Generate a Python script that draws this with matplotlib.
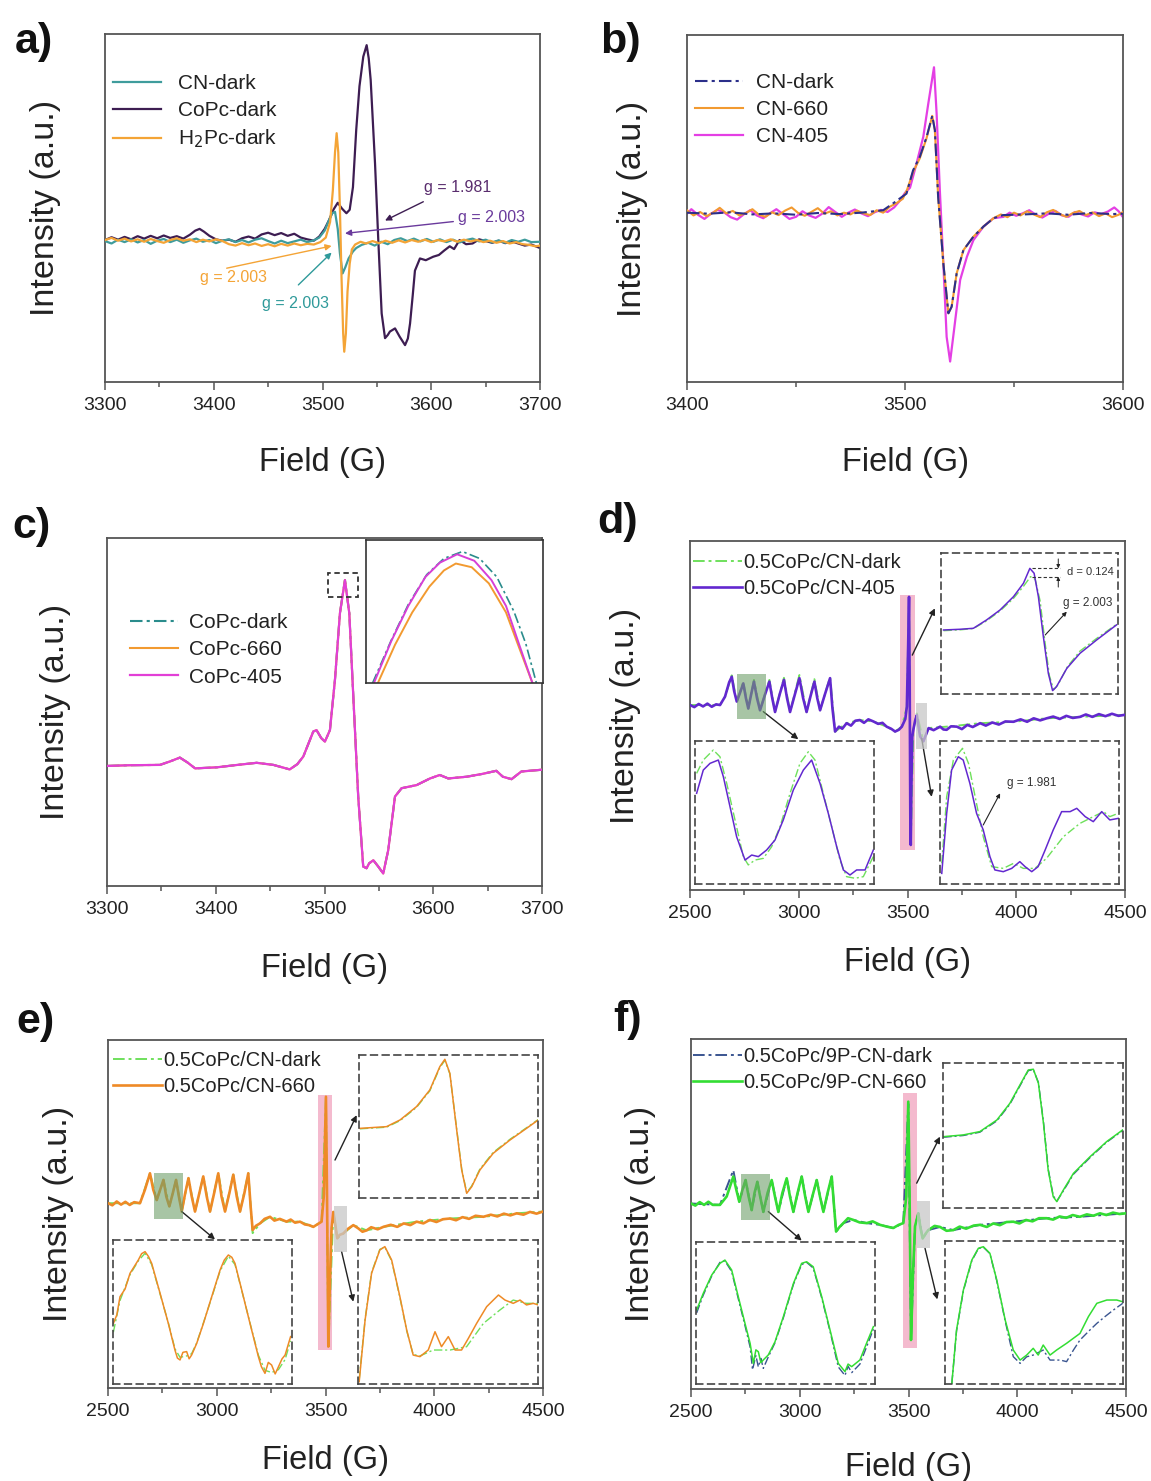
import matplotlib
matplotlib.use("Agg")
import matplotlib.pyplot as plt
from matplotlib.patches import Rectangle
import numpy as np

plt.rcParams['font.family'] = ['Liberation Sans', 'DejaVu Sans']

# ---------------- DATA (field G, intensity a.u.) ----------------
# panel a
a_cn_dark = [(3300,40.5),(3306,39.8),(3312,40.9),(3318,40.2),(3324,41.0),(3330,40.1),(3336,40.8),(3342,39.7),(3348,40.6),(3354,41.1),(3360,40.2),(3366,40.9),(3372,40.0),(3378,40.7),(3384,41.2),(3390,40.3),(3396,40.8),(3402,39.9),(3408,40.6),(3414,41.0),(3420,40.2),(3426,40.8),(3432,40.1),(3438,40.9),(3444,41.3),(3450,40.5),(3456,39.8),(3462,40.6),(3468,39.9),(3474,40.4),(3480,40.9),(3486,40.2),(3492,40.7),(3497,41.5),(3502,43.5),(3506,46.5),(3509,48.5),(3511.5,48.9),(3514,44),(3516,37),(3518.5,31.2),(3521,33),(3524,35.5),(3528,37.5),(3531,38.5),(3536,39.4),(3542,40.0),(3548,39.2),(3554,40.3),(3560,39.6),(3566,40.8),(3572,41.3),(3578,40.5),(3584,41.2),(3590,40.4),(3596,41.1),(3602,40.3),(3608,41.0),(3614,40.2),(3620,40.9),(3626,40.1),(3632,40.8),(3638,41.2),(3644,40.4),(3650,40.9),(3656,40.1),(3662,40.7),(3668,40.0),(3674,40.8),(3680,40.3),(3686,40.9),(3692,40.2),(3700,40.3)]
a_copc_dark = [(3300,40.8),(3306,41.6),(3312,40.9),(3318,41.7),(3324,41.0),(3330,41.9),(3336,41.2),(3342,42.0),(3348,41.3),(3354,42.1),(3360,41.4),(3366,41.9),(3372,41.2),(3378,42.3),(3383,43.5),(3387,44.0),(3391,43.2),(3396,42.0),(3402,41.0),(3408,40.6),(3414,40.9),(3420,40.3),(3426,41.3),(3432,41.8),(3438,41.2),(3444,42.4),(3450,42.9),(3456,42.2),(3462,42.8),(3468,42.0),(3474,42.6),(3480,41.5),(3486,41.0),(3492,40.6),(3497,41.8),(3502,44),(3506,46.5),(3510,49.5),(3514,51.5),(3518,49.8),(3522,48.5),(3525,49.5),(3528,56),(3531,72.4),(3534,85),(3537.5,93.5),(3540.6,96.8),(3542.5,93),(3544.3,86.8),(3548.3,62.8),(3551.3,40.8),(3554.4,19.7),(3557.5,12.6),(3560,13.5),(3562,14.5),(3566.7,15.4),(3571,13),(3575.9,10.6),(3578.5,12.5),(3580.5,16.8),(3583,25),(3585,32),(3589.6,35.5),(3595,35.0),(3601.8,36.0),(3607,36.5),(3612,37.8),(3617,39.0),(3621,38.2),(3626,40.8),(3632,39.6),(3638,39.8),(3644,41.0),(3650,40.5),(3656,40.0),(3662,40.6),(3668,39.9),(3674,40.4),(3680,39.8),(3686,39.2),(3692,39.5),(3700,38.5)]
a_h2pc_dark = [(3300,40.8),(3306,41.4),(3312,40.6),(3318,41.2),(3324,40.4),(3330,41.0),(3336,40.3),(3342,41.1),(3348,40.5),(3354,40.0),(3360,40.8),(3366,41.3),(3372,40.6),(3378,41.0),(3384,40.2),(3390,40.9),(3396,40.4),(3402,41.0),(3408,40.5),(3414,39.6),(3420,39.2),(3426,39.9),(3432,39.3),(3438,39.8),(3444,39.1),(3450,39.6),(3456,39.0),(3462,39.7),(3468,39.2),(3474,39.8),(3480,39.3),(3486,39.7),(3492,39.5),(3498,40.2),(3503,41.5),(3507,46),(3509.5,55),(3511.5,66),(3513,71.5),(3514.5,66),(3516,50),(3517.5,30),(3519,14),(3520,8.7),(3521.5,14),(3523,26),(3525,34),(3527,38.1),(3530,39.5),(3535,40.3),(3540,39.8),(3546,40.5),(3552,39.9),(3558,40.6),(3564,40.0),(3570,40.7),(3576,40.1),(3582,40.8),(3588,40.3),(3594,40.9),(3600,40.2),(3606,40.8),(3612,40.4),(3618,41.0),(3624,40.3),(3630,40.9),(3636,40.4),(3642,40.8),(3648,40.2),(3654,40.6),(3660,40.0),(3666,40.5),(3672,39.8),(3678,40.2),(3684,39.6),(3690,39.4),(3696,39.0),(3700,39.2)]

# panel b
b_cn_dark = [(3400,48.8),(3410,48.5),(3420,48.9),(3430,48.3),(3440,48.6),(3450,48.2),(3460,48.7),(3470,48.4),(3480,48.8),(3490,49.5),(3494.6,51.5),(3500.7,54.3),(3503.7,61.0),(3506.8,64.9),(3509.9,70.6),(3512.5,76.7),(3513.7,72.6),(3515.2,53.4),(3517.6,34.1),(3519.9,19.8),(3521.4,21.7),(3523.7,31.3),(3526.8,38.0),(3531.4,41.9),(3536,44.8),(3540.6,47.2),(3545,48.1),(3555,48.3),(3565,48.6),(3575,48.2),(3585,48.7),(3595,48.4),(3600,48.5)]
b_cn_660 = [(3400,49.5),(3403,48.0),(3406,49.0),(3409,47.8),(3412,48.8),(3415,50.2),(3418,48.6),(3421,49.3),(3424,48.0),(3427,48.7),(3430,49.8),(3433,48.2),(3436,47.6),(3439,48.9),(3442,48.1),(3445,49.4),(3448,50.3),(3451,48.7),(3454,47.9),(3457,49.0),(3460,50.1),(3463,48.5),(3466,49.2),(3469,48.0),(3472,48.8),(3475,48.3),(3478,49.4),(3481,48.6),(3484,48.1),(3487,49.5),(3490,48.8),(3493,50.5),(3496,51.5),(3499,52.8),(3501,55.5),(3503.7,60.5),(3506.8,64.5),(3509.9,70.3),(3512.5,76.7),(3513.7,72.6),(3515.2,53.4),(3517.6,34.1),(3519.9,19.8),(3521.4,21.7),(3523.7,31.3),(3526.8,38.0),(3531.4,41.9),(3536,44.8),(3540.6,47.2),(3544,48.3),(3547,47.5),(3550,48.8),(3553,48.0),(3556,49.2),(3559,48.3),(3562,47.5),(3565,48.9),(3568,49.6),(3571,48.4),(3574,47.6),(3577,48.7),(3580,49.3),(3583,48.1),(3586,48.9),(3589,47.8),(3592,48.6),(3595,47.5),(3598,48.2),(3600,49.0)]
b_cn_405 = [(3400,48.5),(3402,49.8),(3405,48.2),(3408,47.0),(3411,48.5),(3414,49.6),(3417,48.9),(3420,47.5),(3423,46.8),(3426,48.3),(3429,49.5),(3432,48.0),(3435,47.2),(3438,48.6),(3441,49.8),(3444,48.4),(3447,47.0),(3450,47.6),(3453,49.2),(3456,48.0),(3459,47.3),(3462,48.5),(3465,50.4),(3468,49.0),(3471,47.6),(3474,48.8),(3477,49.7),(3480,48.6),(3483,47.8),(3486,48.9),(3489,49.6),(3492,49.0),(3495,50.3),(3498,52.5),(3500,54.5),(3502.3,56),(3505.3,63),(3508.4,70.7),(3510.7,80.3),(3513.3,90.7),(3514.5,77.4),(3516,55),(3517.6,34),(3519.1,13),(3520.7,5.9),(3522.5,15),(3525.3,29.4),(3528.4,36.1),(3531.4,40.9),(3536,44.8),(3540.6,47.2),(3545.2,47.6),(3548,48.8),(3551,47.9),(3554,48.6),(3557,49.5),(3560,48.2),(3563,47.4),(3566,48.5),(3569,49.3),(3572,48.0),(3575,47.6),(3578,49.0),(3581,48.3),(3584,47.7),(3587,48.9),(3590,48.4),(3593,49.1),(3596,50.3),(3598,49.2),(3600,47.5)]

# panel c (three nearly identical spectra)
c_copc = [(3300,34.5),(3320,34.7),(3348.7,34.8),(3358,35.8),(3367,36.9),(3374,35.5),(3381,33.8),(3401,34.1),(3420,34.8),(3437.6,35.4),(3453,34.8),(3468,33.5),(3475,35.0),(3480.5,37.2),(3489.7,44.4),(3492.7,44.8),(3497,42.5),(3500.4,41.5),(3505,44.8),(3509.6,59.2),(3514.2,78.4),(3518.8,87.9),(3522.8,78.4),(3526.5,54.4),(3531,25.7),(3535.6,5.6),(3538.7,5.1),(3541,6.5),(3544.9,7.4),(3549.4,5.6),(3554,3.6),(3558.6,10.3),(3564.8,25.7),(3570.9,28.1),(3584.7,29.0),(3597,30.9),(3606,31.9),(3613.8,30.9),(3630.7,31.4),(3645,32.2),(3658,33.1),(3664,31.4),(3672,30.7),(3681,32.9),(3699.5,33.4),(3700,33.4)]
c_in_405 = [(3512.6,86.0),(3513.9,86.9),(3515.2,87.67),(3516.5,88.3),(3517.6,88.61),(3518.9,88.79),(3520.2,88.65),(3521.5,88.23),(3522.6,87.67),(3523.6,86.83),(3524.6,86.0)]
c_in_660 = [(3512.9,86.0),(3514.2,86.83),(3515.5,87.53),(3516.8,88.09),(3517.9,88.44),(3518.8,88.59),(3520.0,88.51),(3521.3,88.16),(3522.6,87.53),(3523.6,86.76),(3524.6,86.0)]
c_in_dark = [(3512.5,86.0),(3513.9,86.92),(3515.2,87.7),(3516.6,88.35),(3517.9,88.7),(3519.3,88.85),(3520.6,88.7),(3521.9,88.3),(3523.2,87.55),(3524.1,86.85),(3524.9,86.0)]

# panel d : 0.5CoPc/CN-dark vs 405
d_405 = [(2500,53.0),(2520,52.4),(2540,53.3),(2560,52.6),(2580,53.4),(2600,52.5),(2620,53.2),(2638,53.0),(2661,55.4),(2680,59.5),(2692,61.1),(2703,57),(2715,54.0),(2730,56.5),(2745,59.2),(2757,55),(2768,52.0),(2781,56),(2794,59.7),(2808,55),(2822,51.5),(2845,56),(2865,59.7),(2878,55),(2891,51),(2912,56),(2932,60.2),(2946,55),(2960,51),(2982,56),(3003,60.7),(3020,55),(3036,51),(3054,55.5),(3072,59.7),(3085,55),(3098,51.5),(3120,56),(3144,60.7),(3155,52),(3167,45.4),(3185,46.8),(3200,46.2),(3220,47.8),(3240,47.1),(3260,48.5),(3281,48.7),(3300,47.9),(3320,48.9),(3343,48.3),(3365,47.6),(3385,47.9),(3404,46.8),(3425,46.2),(3443,45.4),(3460,45.9),(3474,46.8),(3490,49),(3497,52.5),(3503,70),(3507,84),(3510,60),(3513,20),(3515,12.9),(3518,30),(3522,44),(3527,46),(3535,48.5),(3543,50.1),(3550,47),(3558,44),(3573,42.6),(3585,44.5),(3597,46.4),(3620,45.8),(3650,46.8),(3665,46.0),(3680,45.9),(3700,46.9),(3727,46.8),(3750,46.1),(3775,47.3),(3800,46.7),(3834,47.8),(3860,47.1),(3890,48.0),(3920,47.4),(3950,48.3),(3987,48.2),(4020,48.9),(4050,48.2),(4080,49.2),(4110,48.6),(4140,49.2),(4170,49.7),(4200,49.0),(4230,49.9),(4260,49.3),(4293,49.6),(4320,50.3),(4350,49.6),(4380,50.4),(4410,49.8),(4440,50.5),(4470,49.9),(4500,50.2)]
d_dark = [(2500,53.0),(2638,53.0),(2661,55.4),(2692,61.5),(2715,54.0),(2745,59.6),(2768,52.0),(2794,60.2),(2822,51.5),(2865,60.2),(2891,51),(2932,60.8),(2960,51),(3003,61.6),(3036,51),(3072,60.4),(3098,51.5),(3144,61.0),(3167,45.4),(3220,47.8),(3281,48.7),(3343,48.3),(3404,46.8),(3443,45.4),(3474,46.8),(3497,52.5),(3507,83),(3515,13.5),(3527,46),(3543,50.6),(3573,42.6),(3597,46.4),(3700,46.9),(3834,47.8),(3987,48.2),(4140,49.2),(4293,49.6),(4500,50.2)]
d_tr_405 = [(3490.8,45.5),(3495.4,46.0),(3499.2,46.7),(3502.9,52.6),(3506.7,59.7),(3510.5,69.2),(3513.3,78.7),(3515.1,89.3),(3516.3,85.8),(3517.5,69.2),(3518.9,40.8),(3520.3,14.7),(3521.5,2.4),(3522.6,5.2),(3525.5,18.2),(3529.2,28.9),(3533.9,38.4),(3539.5,49.1)]
d_tr_dark = [(3490.8,45.0),(3495.4,45.6),(3499.2,46.5),(3502.9,52.0),(3506.7,59.0),(3510.5,68.0),(3513.3,76.5),(3515.3,83.4),(3516.6,81.5),(3518.0,66.0),(3519.3,38.0),(3520.6,13.0),(3521.8,3.0),(3523.0,6.5),(3525.7,19.5),(3529.2,30.5),(3533.9,39.5),(3539.5,49.5)]
d_bl_405 = [(2717.2,63.3),(2722.1,79.5),(2727.1,84.2),(2733.2,86.5),(2736.9,74.9),(2741.8,54.0),(2746.7,33.0),(2752.9,16.7),(2757.8,20.2),(2762.7,19.1),(2768.8,23.7),(2775.0,30.7),(2781.1,44.7),(2788.5,65.6),(2795.9,79.5),(2802.0,86.5),(2808.2,70.2),(2814.3,49.3),(2820.5,26.0),(2825.4,9.8),(2830.3,6.3),(2835.2,9.8),(2841.4,9.8),(2847.5,23.7)]
d_bl_dark = [(2717.2,77.2),(2722.1,86.5),(2729.5,93.5),(2734.4,88.8),(2739.4,70.2),(2745.5,44.7),(2751.6,19.1),(2755.3,13.3),(2760.2,16.7),(2766.4,17.9),(2772.5,26.0),(2778.7,40.0),(2786.1,63.3),(2793.4,84.2),(2799.6,92.3),(2804.5,86.5),(2810.6,63.3),(2816.8,40.0),(2822.9,16.7),(2827.8,5.1),(2834.0,4.0),(2840.1,5.1),(2847.5,19.1)]
d_br_405 = [(3539.5,7.4),(3540.9,49.3),(3542.3,79.5),(3544.2,88.8),(3545.6,86.5),(3547.5,70.2),(3549.4,49.3),(3551.3,37.7),(3553.2,19.1),(3554.6,9.8),(3557.0,8.6),(3559.4,10.9),(3561.7,15.6),(3563.2,12.1),(3565.1,8.6),(3566.9,12.1),(3568.9,23.7),(3571.2,37.7),(3573.6,50.5),(3576.0,50.5),(3577.9,52.8),(3580.3,47.0),(3582.6,43.5),(3585.0,50.5),(3587.3,44.7),(3589.7,45.8)]
d_br_dark = [(3539.5,14.4),(3540.9,60.9),(3542.8,86.5),(3545.4,94.7),(3547.1,84.2),(3549.0,60.9),(3551.3,33.0),(3553.7,12.1),(3557.0,10.9),(3559.9,14.4),(3562.7,10.9),(3566.0,10.9),(3569.3,17.9),(3574.1,33.0),(3578.8,42.3),(3582.6,47.0),(3585.5,50.5),(3587.3,47.0),(3589.7,49.3)]

# panel e : 0.5CoPc/CN-dark vs 660
e_660 = [(2500,53.1),(2520,52.5),(2540,53.6),(2560,52.7),(2580,53.5),(2600,52.6),(2620,53.4),(2647,53.1),(2670,57),(2693,61.7),(2708,57),(2724,54.0),(2740,57),(2755,59.8),(2768,55),(2782,52.2),(2798,56),(2813,59.8),(2826,55),(2839,50.7),(2855,56),(2870,60.3),(2885,55),(2900,50.7),(2920,56),(2938,60.8),(2954,55),(2969,50.7),(2988,56),(3007,61.7),(3022,55),(3038,50.7),(3058,56),(3076,61.3),(3092,55),(3107,50.7),(3127,56),(3145,61.7),(3156,52),(3165,45.4),(3180,46.6),(3199,47.3),(3220,48.6),(3245,49.2),(3265,48.1),(3290,48.6),(3321,47.8),(3340,48.4),(3360,47.5),(3383,47.8),(3405,47.0),(3425,46.8),(3444,46.3),(3462,47.0),(3482,47.8),(3492,55),(3502,83.7),(3507,55),(3513,11.9),(3520,30),(3528,46),(3536,50.6),(3545,47),(3554,43.0),(3565,44.0),(3582,44.4),(3600,45.6),(3628,46.8),(3650,45.9),(3670,44.9),(3689,45.3),(3710,46.2),(3740,45.6),(3766,46.3),(3800,46.9),(3830,46.3),(3860,47.3),(3890,46.8),(3919,47.8),(3950,47.3),(3980,48.3),(4010,47.7),(4040,48.5),(4072,48.7),(4100,48.2),(4130,49.1),(4160,48.6),(4190,49.5),(4226,49.2),(4260,49.8),(4290,49.3),(4320,50.1),(4350,49.6),(4379,50.2),(4410,49.8),(4440,50.6),(4470,50.1),(4500,50.7)]
e_dark = [(2500,53.1),(2647,53.1),(2693,61.7),(2724,54.0),(2755,59.8),(2782,52.2),(2813,59.8),(2839,50.7),(2870,60.3),(2900,50.7),(2938,60.8),(2969,50.7),(3007,61.7),(3038,50.7),(3076,61.3),(3107,50.7),(3145,61.7),(3165,44.5),(3199,47.3),(3245,49.2),(3321,47.8),(3383,47.8),(3444,46.3),(3482,47.8),(3502,83.2),(3513,12.3),(3536,50.6),(3554,43.0),(3582,44.4),(3628,46.8),(3689,45.3),(3766,46.3),(3919,47.8),(4072,48.7),(4226,49.2),(4379,50.2),(4500,50.7)]
e_tr_660 = [(3490.2,48.8),(3497.6,50.0),(3501.4,54.7),(3506.0,64.0),(3509.7,75.6),(3512.5,91.9),(3513.9,97.0),(3515.3,87.2),(3517.2,47.7),(3518.6,19.8),(3520.0,3.5),(3521.4,8.1),(3523.7,19.8),(3527.4,31.4),(3532.1,40.7),(3536.7,48.8),(3540.0,54.7)]
e_tr_dark = [(3490.2,48.5),(3497.6,49.6),(3501.4,54.2),(3506.0,63.5),(3509.7,75.0),(3512.5,91.2),(3513.9,96.3),(3515.3,86.8),(3517.2,48.5),(3518.6,20.5),(3520.0,4.0),(3521.4,8.6),(3523.7,20.5),(3527.4,32.0),(3532.1,41.2),(3536.7,49.2),(3540.0,55.0)]
e_bl_660 = [(2713.5,42.1),(2716.0,48.0),(2718.3,60.6),(2722.0,66.0),(2725.6,76.9),(2731.6,86.1),(2734.0,90.5),(2736.5,91.9),(2739.0,88.5),(2741.3,83.8),(2747.4,63.0),(2753.4,42.1),(2758.2,23.6),(2760.0,18.0),(2761.9,16.7),(2764.0,22.0),(2766.7,22.5),(2768.5,17.5),(2770.3,20.1),(2774.0,28.2),(2778.9,42.1),(2784.9,60.6),(2791.0,79.2),(2794.0,86.0),(2797.0,89.6),(2799.5,88.0),(2801.8,83.8),(2806.7,65.3),(2812.7,42.1),(2818.8,19.0),(2821.0,12.0),(2823.6,7.4),(2826.0,15.0),(2828.4,13.2),(2831.0,7.0),(2833.4,12.0),(2836.0,17.5),(2838.2,20.1),(2842.2,32.9)]
e_bl_dark = [(2713.5,36.0),(2718.3,58.0),(2725.6,76.0),(2731.6,85.5),(2736.5,90.8),(2741.3,83.0),(2747.4,62.5),(2753.4,42.5),(2758.2,24.5),(2761.9,18.5),(2766.7,19.5),(2770.3,21.0),(2774.0,28.5),(2778.9,42.5),(2784.9,60.0),(2791.0,78.5),(2797.0,88.8),(2801.8,83.0),(2806.7,65.0),(2812.7,42.5),(2818.8,20.0),(2823.6,9.5),(2828.4,8.0),(2833.4,10.0),(2838.2,17.0),(2842.2,30.0)]
e_br_660 = [(3537.3,1.6),(3539.3,44.4),(3541.5,76.9),(3544.3,93.1),(3546.0,95.4),(3548.3,86.1),(3551.1,60.6),(3553.4,37.5),(3555.6,20.1),(3557.9,19.0),(3560.7,23.6),(3563.0,36.3),(3565.2,25.9),(3567.5,32.9),(3569.8,23.6),(3572.0,23.6),(3574.3,31.7),(3577.1,42.1),(3580.5,53.7),(3584.5,61.8),(3586.7,58.3),(3589.5,56.0),(3591.8,58.3),(3594.0,54.9),(3596.3,56.0),(3598.0,54.9)]
e_br_dark = [(3537.3,3.0),(3539.3,45.0),(3541.5,77.5),(3544.3,93.5),(3546.0,95.0),(3548.3,85.5),(3551.1,60.0),(3553.4,37.0),(3555.6,20.5),(3557.9,19.5),(3562.4,23.6),(3568.1,23.6),(3573.7,25.9),(3579.4,42.1),(3585.0,51.4),(3589.5,58.3),(3594.0,56.0),(3598.0,56.0)]

# panel f : 0.5CoPc/9P-CN-dark vs 660
f_660 = [(2500,53.0),(2520,52.4),(2540,53.4),(2560,52.6),(2580,53.5),(2600,52.6),(2633,52.6),(2664,55),(2694.6,60.7),(2708,57),(2722,53.5),(2737,57),(2751,59.7),(2765,55),(2779,51.1),(2792,56),(2805,59.2),(2818,55),(2832.6,50.6),(2852,56),(2871,59.7),(2886,55),(2901.6,50.6),(2920,56),(2940,60.2),(2955,55),(2970.6,50.6),(2990,56),(3009,60.7),(3025,55),(3039.7,50.6),(3060,55.5),(3078,59.7),(3093,55),(3108.7,50.6),(3128,56),(3147,60.7),(3158,52),(3167,45.0),(3183,46.3),(3200.6,47.4),(3222,48.8),(3246.6,48.3),(3275,47.6),(3308,47.4),(3335,47.9),(3369,46.9),(3400,46.4),(3430,46.0),(3455,46.9),(3476,47.4),(3490,55),(3499,82.1),(3505,55),(3511.5,14.0),(3520,32),(3530,46.5),(3545.3,50.2),(3555,46),(3565,43.0),(3580,44.5),(3591,45.4),(3620,46.6),(3645,46.3),(3675,45.2),(3706,45.4),(3735,46.4),(3765,45.8),(3800,46.7),(3829,46.9),(3860,46.3),(3890,47.3),(3920,46.8),(3950,47.7),(3982,47.8),(4010,47.3),(4040,48.3),(4070,47.9),(4100,48.8),(4135,48.8),(4165,48.4),(4195,49.3),(4225,48.9),(4255,49.7),(4288,49.2),(4320,49.9),(4350,49.5),(4380,50.2),(4410,49.7),(4440,50.4),(4470,50.0),(4500,50.2)]
f_dark = [(2500,53.0),(2633,52.6),(2694.6,62.5),(2722,53.5),(2751,59.7),(2779,51.1),(2805,59.2),(2832.6,50.6),(2871,59.7),(2901.6,50.6),(2940,60.2),(2970.6,50.6),(3009,60.7),(3039.7,50.6),(3078,59.7),(3108.7,50.6),(3147,60.7),(3167,45.0),(3200.6,47.4),(3246.6,48.3),(3308,47.4),(3369,46.9),(3430,46.0),(3476,47.4),(3499,81.5),(3511.5,14.5),(3530,46.5),(3545.3,50.2),(3565,43.0),(3591,45.4),(3645,46.3),(3706,45.4),(3829,46.9),(3982,47.8),(4135,48.8),(4288,49.2),(4500,50.2)]
f_tr_660 = [(3490.2,49.4),(3495.7,50.6),(3500.3,52.9),(3505.0,60.9),(3508.6,72.4),(3511.4,85.1),(3513.7,95.4),(3515.1,95.9),(3516.5,86.2),(3517.9,58.6),(3519.2,26.4),(3520.6,8.0),(3521.6,4.6),(3523.4,12.6),(3526.2,24.1),(3530.8,35.6),(3535.4,46.0),(3539.8,54.0)]
f_tr_dark = [(3490.2,49.0),(3495.7,50.2),(3500.3,52.5),(3505.0,60.3),(3508.6,71.8),(3511.4,84.5),(3513.7,95.0),(3515.1,95.6),(3516.5,86.8),(3517.9,59.5),(3519.2,27.2),(3520.6,8.6),(3521.6,5.0),(3523.4,12.0),(3526.2,23.5),(3530.8,35.0),(3535.4,45.6),(3539.8,53.6)]
f_bl_660 = [(2730.5,52.0),(2735.4,63.7),(2741.7,76.6),(2747.8,84.8),(2751.5,87.1),(2756.5,80.1),(2761.4,61.4),(2766.4,42.6),(2770.2,28.6),(2772.6,14.5),(2774.5,24.0),(2776.3,22.7),(2778.2,15.0),(2780.0,16.9),(2783.7,20.4),(2788.7,29.7),(2794.9,47.3),(2802.4,70.7),(2808.5,84.8),(2812.2,85.9),(2817.1,82.4),(2823.4,61.4),(2829.6,37.9),(2835.7,14.5),(2840.7,8.7),(2843.0,14.0),(2845.7,12.2),(2851.8,16.9),(2856.7,28.6),(2861.8,40.3)]
f_bl_dark = [(2730.5,50.0),(2735.4,62.5),(2741.7,76.0),(2747.8,85.5),(2751.5,86.5),(2756.5,79.0),(2761.4,60.0),(2766.4,41.0),(2770.2,26.0),(2772.0,10.0),(2774.5,20.0),(2776.3,12.0),(2778.2,18.0),(2780.0,11.0),(2783.7,19.0),(2788.7,29.0),(2794.9,46.5),(2802.4,70.0),(2808.5,84.0),(2812.2,85.5),(2817.1,81.5),(2823.4,60.5),(2829.6,37.0),(2835.7,12.0),(2840.7,6.0),(2843.0,12.5),(2845.7,8.0),(2851.8,14.0),(2856.7,26.0),(2861.8,38.5)]
f_br_660 = [(3542.2,0.5),(3543.7,37.7),(3545.9,65.6),(3548.6,86.5),(3550.7,94.7),(3552.3,95.8),(3554.4,91.2),(3556.6,72.6),(3559.3,44.7),(3561.9,23.7),(3564.1,16.7),(3566.2,20.2),(3568.3,24.9),(3569.9,20.2),(3571.5,27.2),(3573.7,20.2),(3575.8,23.7),(3579.0,28.4),(3583.3,35.3),(3586.0,47.0),(3588.7,56.3),(3591.9,58.6),(3595.1,58.6),(3597.0,57.4)]
f_br_dark = [(3542.2,0.5),(3543.7,37.0),(3545.9,65.0),(3548.6,86.0),(3550.7,94.5),(3552.3,95.5),(3554.4,91.0),(3556.6,72.0),(3559.3,44.0),(3561.9,19.1),(3564.1,14.4),(3566.2,19.0),(3568.3,20.2),(3571.5,23.7),(3573.7,16.7),(3577.0,16.7),(3579.0,15.6),(3581.2,23.7),(3583.3,30.7),(3586.5,37.7),(3588.7,42.3),(3591.3,47.0),(3594.0,51.6),(3597.0,56.3)]

# ---------------- FIGURE ----------------
W, H = 1151, 1481
fig = plt.figure(figsize=(W/100, H/100), dpi=100)
SP = '#555555'

def px_axes(x0, y0, x1, y1):
    return fig.add_axes([x0/W, 1-y1/H, (x1-x0)/W, (y1-y0)/H])

def fxy(px, py):
    return (px/W, 1-py/H)

def xy(pts):
    a = np.array(pts, dtype=float)
    return a[:, 0], a[:, 1]

def style_main(ax, xlim, major, minor, lab_dx, lab_dy):
    ax.set_xlim(*xlim); ax.set_ylim(0, 100)
    ax.set_xticks(np.arange(xlim[0], xlim[1]+1, major))
    ax.set_xticks(np.arange(xlim[0], xlim[1]+1, minor), minor=True)
    ax.set_yticks([])
    ax.tick_params(axis='x', which='major', direction='out', length=6, width=1.1, color=SP,
                   labelsize=14, pad=5, labelcolor='#222222')
    ax.tick_params(axis='x', which='minor', direction='out', length=3.5, width=1.1, color=SP)
    for s in ax.spines.values():
        s.set_color(SP); s.set_linewidth(1.3)
    ax.set_xlabel('Field (G)', fontsize=23.5, color='#222222')
    ax.set_ylabel('Intensity (a.u.)', fontsize=24.5, color='#222222')
    bb = ax.get_position()
    wpx = bb.width*W; hpx = bb.height*H
    # offsets given to label centres; convert to anchor edges
    ax.xaxis.set_label_coords(0.5, -(lab_dy-13)/hpx)
    ax.yaxis.set_label_coords(-(lab_dx-16)/wpx, 0.5)

def legend(ax, anchor_px, fs, hl, htp, ls):
    leg = ax.legend(loc='upper left', bbox_to_anchor=fxy(*anchor_px), bbox_transform=fig.transFigure,
                    frameon=False, fontsize=fs, handlelength=hl, handletextpad=htp,
                    labelspacing=ls, borderpad=0, borderaxespad=0)
    for t in leg.get_texts():
        t.set_color('#222222')
    return leg

def panel_label(txt, px, py):
    fig.text(px/W, 1-py/H, txt, fontsize=31, fontweight='bold', ha='center', va='center', color='#111111')

def inset(x0, y0, x1, y1, xlim, dashed=True):
    ax = px_axes(x0, y0, x1, y1)
    ax.set_xlim(*xlim); ax.set_ylim(0, 100)
    ax.set_xticks([]); ax.set_yticks([])
    ax.patch.set_alpha(0)
    for s in ax.spines.values():
        s.set_color('#444444'); s.set_linewidth(1.2)
        if dashed:
            s.set_linestyle((0, (4, 3)))
    return ax

def arrow(ax, p0, p1, color='#222222', lw=1.0, ms=9):
    ax.annotate('', xy=p1, xytext=p0, xycoords='data', textcoords='data',
                arrowprops=dict(arrowstyle='-|>', color=color, lw=lw, mutation_scale=ms,
                                shrinkA=0, shrinkB=0))

# ---- panel a ----
ax = px_axes(105, 34, 540, 382)
c_teal, c_dp, c_or = '#3f9c9c', '#3d1d52', '#f4a436'
ax.plot(*xy(a_cn_dark), color=c_teal, lw=1.6, label='CN-dark', zorder=3)
ax.plot(*xy(a_copc_dark), color=c_dp, lw=1.6, label='CoPc-dark', zorder=2)
ax.plot(*xy(a_h2pc_dark), color=c_or, lw=1.6, label='H$_2$Pc-dark', zorder=4)
style_main(ax, (3300, 3700), 100, 50, 60, 78)
legend(ax, (113, 74), 15, 2.3, 0.8, 0.38)
ax.text(3624.6, 56.0, 'g = 1.981', color='#5a2d6e', fontsize=11.5, ha='center', va='center')
arrow(ax, (3592.7, 51.8), (3557.5, 46.4), color='#3d1d52')
ax.text(3655, 47.4, 'g = 2.003', color='#6a3a9c', fontsize=11.5, ha='center', va='center')
arrow(ax, (3620.3, 46.1), (3520.7, 42.7), color='#6a3a9c')
ax.text(3418.6, 29.9, 'g = 2.003', color=c_or, fontsize=11.5, ha='center', va='center')
arrow(ax, (3411.9, 32.7), (3508.4, 39.1), color=c_or)
ax.text(3475.6, 22.7, 'g = 2.003', color='#2f9a9a', fontsize=11.5, ha='center', va='center')
arrow(ax, (3477.8, 27.9), (3508.4, 37.2), color='#2f9a9a')
panel_label('a)', 34, 42)

# ---- panel b ----
ax = px_axes(687, 35, 1123, 382)
ax.plot(*xy(b_cn_dark), color='#2b2f8a', lw=1.5, ls=(0, (6, 2, 1.5, 2)), label='CN-dark', zorder=4)
ax.plot(*xy(b_cn_660), color='#f29a30', lw=1.5, label='CN-660', zorder=3)
ax.plot(*xy(b_cn_405), color='#e43fe4', lw=1.6, label='CN-405', zorder=2)
style_main(ax, (3400, 3600), 100, 50, 55, 78)
legend(ax, (695, 73), 15, 2.3, 0.65, 0.38)
panel_label('b)', 620, 42)

# ---- panel c ----
ax = px_axes(107, 538, 542, 886)
ax.plot(*xy(c_copc), color='#2a8c8c', lw=1.5, ls=(0, (6, 2, 1.5, 2)), label='CoPc-dark', zorder=2)
ax.plot(*xy(c_copc), color='#f29a30', lw=1.5, label='CoPc-660', zorder=3)
ax.plot(*xy(c_copc), color='#e23fd6', lw=1.6, label='CoPc-405', zorder=4)
style_main(ax, (3300, 3700), 100, 50, 52, 80)
legend(ax, (130, 613), 15, 2.3, 0.55, 0.4)
ax.add_patch(Rectangle((3503.5, 83.1), 27.5, 6.9, fill=False, ls=(0, (3, 2)), lw=1.3, ec='#333333', zorder=5))
panel_label('c)', 32, 527)
ci = inset(366, 540, 543, 683, (3512.0, 3525.4), dashed=False)
ci.set_ylim(86, 89.1)
for s in ci.spines.values():
    s.set_color('#333333'); s.set_linewidth(1.2)
ci.patch.set_alpha(1); ci.patch.set_facecolor('white')
ci.plot(*xy(c_in_dark), color='#2a8c8c', lw=1.2, ls=(0, (6, 2, 1.5, 2)))
ci.plot(*xy(c_in_660), color='#f29a30', lw=1.4)
ci.plot(*xy(c_in_405), color='#d63fd6', lw=1.4)

# ---- helper for d/e/f ----
plabel_pos = {'d)': (618, 522), 'e)': (35, 1022), 'f)': (628, 1020)}

def hyper_panel(box, lab_dx, lab_dy, light, dark, c_light, c_dark, dark_ls, labels, leg_anchor,
                rects, arrows, insets, plabel):
    ax = px_axes(*box)
    (g0, g1, gy0, gy1), (p0, p1, py0, py1), (r0, r1, ry0, ry1) = rects
    ax.add_patch(Rectangle((p0, py0), p1-p0, py1-py0, fc='#f3b3c9', ec='none', alpha=0.9, zorder=1))
    ax.plot(*xy(dark), color=c_dark, lw=1.4, ls=dark_ls, label=labels[0], zorder=2)
    ax.plot(*xy(light), color=c_light, lw=1.9, label=labels[1], zorder=3)
    ax.add_patch(Rectangle((g0, gy0), g1-g0, gy1-gy0, fc='#6f9f6a', ec='none', alpha=0.6, zorder=4))
    ax.add_patch(Rectangle((r0, ry0), r1-r0, ry1-ry0, fc='#c8c8c8', ec='none', alpha=0.75, zorder=4))
    style_main(ax, (2500, 4500), 500, 250, lab_dx, lab_dy)
    legend(ax, leg_anchor, 14.5, 2.45, 0.05, 0.36)
    for (a0, a1) in arrows:
        arrow(ax, a0, a1)
    ins = []
    for (pos, xl, lpts, dpts) in insets:
        ia = inset(*pos, xl)
        ia.plot(*xy(dpts), color=c_dark, lw=1.0, ls=dark_ls)
        ia.plot(*xy(lpts), color=c_light, lw=1.1)
        ins.append(ia)
    panel_label(plabel, *plabel_pos[plabel])
    return ax, ins

# ---- panel d ----
ax, (itr, ibl, ibr) = hyper_panel(
    (690, 541, 1125, 890), 65, 70, d_405, d_dark, '#6228cf', '#6fe05c', (0, (6, 2, 1.5, 2)),
    ('0.5CoPc/CN-dark', '0.5CoPc/CN-405'), (693, 553),
    ((2716, 2848, 48.9, 61.9), (3465.5, 3534.5, 11.5, 84.5), (3539, 3590, 40.4, 53.6)),
    [((3522, 67.3), (3626, 80.7)), ((2837, 51.1), (2998, 43.2)), ((3565, 43.5), (3611, 26.7))],
    [((940.7, 553.3, 1118.3, 694), (3490, 3540), d_tr_405, d_tr_dark),
     ((695, 740.7, 874, 884), (2716, 2848), d_bl_405, d_bl_dark),
     ((940, 740.7, 1119.3, 884), (3539, 3590), d_br_405, d_br_dark)], 'd)')
itr.plot([3515.6, 3523.6], [89.3, 89.3], color='#333333', lw=0.8, ls=(0, (3, 2)))
itr.plot([3515.6, 3523.6], [83.4, 83.4], color='#333333', lw=0.8, ls=(0, (3, 2)))
arrow(itr, (3523.1, 96.0), (3523.1, 89.3), lw=0.7, ms=5)
arrow(itr, (3523.1, 76.0), (3523.1, 83.4), lw=0.7, ms=5)
itr.text(3532.0, 87.0, 'd = 0.124', fontsize=8, ha='center', va='center', color='#333333')
itr.text(3531.3, 64.5, 'g = 2.003', fontsize=8.5, ha='center', va='center', color='#333333')
arrow(itr, (3519.4, 41.9), (3525.5, 58.5), lw=0.8, ms=6)
ibr.text(3565.1, 70.2, 'g = 1.981', fontsize=8.5, ha='center', va='center', color='#333333')
arrow(ibr, (3551.3, 41.2), (3556.1, 63.3), lw=0.8, ms=6)

# ---- panel e ----
hyper_panel(
    (108, 1040, 543, 1388), 50, 70, e_660, e_dark, '#ee8a26', '#6fe05c', (0, (6, 2, 1.5, 2)),
    ('0.5CoPc/CN-dark', '0.5CoPc/CN-660'), (113, 1051),
    ((2713, 2843, 48.5, 61.7), (3467, 3528, 10.9, 84.2), (3537, 3598, 39.1, 52.2)),
    [((3543.7, 65.5), (3643.4, 78.4)), ((2838.9, 50.7), (2992, 42.7)), ((3574, 39.2), (3627.8, 24.8))],
    [((359.3, 1055, 538.3, 1198.3), (3490, 3540), e_tr_660, e_tr_dark),
     ((112.7, 1240, 291.7, 1384), (2713, 2843), e_bl_660, e_bl_dark),
     ((358.3, 1240, 538.3, 1384), (3537, 3598), e_br_660, e_br_dark)], 'e)')

# ---- panel f ----
hyper_panel(
    (691, 1039, 1126, 1389), 51, 76, f_660, f_dark, '#33dd33', '#3a5590', (0, (6, 2, 1.5, 2)),
    ('0.5CoPc/9P-CN-dark', '0.5CoPc/9P-CN-660'), (693, 1047),
    ((2730, 2863, 48.3, 61.4), (3476, 3540, 11.6, 84.5), (3540, 3597, 40.2, 53.8)),
    [((3537.7, 58.8), (3644.8, 72.1)), ((2855.4, 50.7), (3009, 42.4)), ((3575.9, 40.2), (3632.4, 25.6))],
    [((942.7, 1063.3, 1123.3, 1208.3), (3490, 3540), f_tr_660, f_tr_dark),
     ((696, 1241.7, 875, 1384), (2730, 2863), f_bl_660, f_bl_dark),
     ((945, 1240.7, 1122.7, 1384), (3540, 3597), f_br_660, f_br_dark)], 'f)')

fig.savefig('out.png', dpi=100)
